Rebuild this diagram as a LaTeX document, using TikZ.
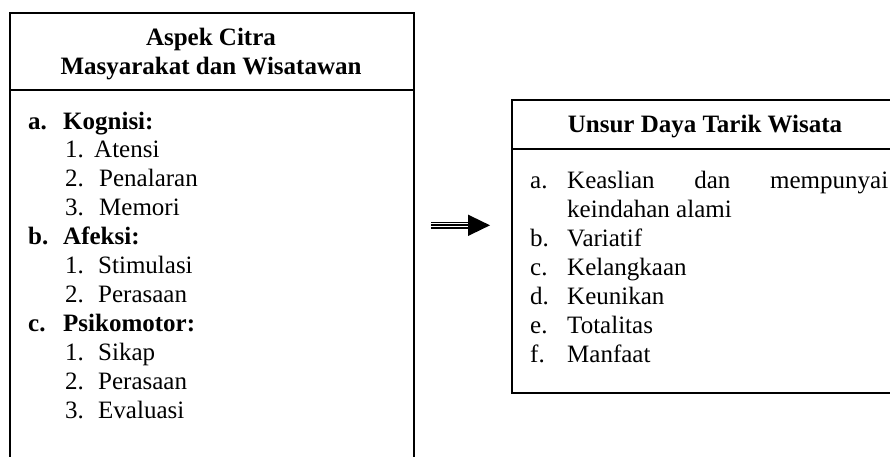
\documentclass[tikz,border=0pt]{standalone}
\usepackage{fontspec}
\setmainfont{Liberation Serif}
\begin{document}
\begin{tikzpicture}[x=1pt,y=-1pt,
  boxframe/.style={draw=black,line width=1.5pt,rectangle,inner sep=0pt,anchor=north west},
  txt/.style={inner sep=0pt,anchor=base west,font=\fontsize{25}{29}\selectfont},
  ctxt/.style={inner sep=0pt,anchor=base,font=\fontsize{25}{29}\selectfont\bfseries},
  btxt/.style={txt,font=\fontsize{25}{29}\selectfont\bfseries},
  rule/.style={draw=black,line width=1.5pt}]
\clip (0,0) rectangle (890,456);
\fill[white] (0,0) rectangle (890,456);
% left box
\node[boxframe,minimum width=404pt,minimum height=480pt] (L) at (9,12) {};
\coordinate (Ldl) at (9,90);
\coordinate (Ldr) at (413,90);
\draw[rule] (Ldl) -- (Ldr);
\node[ctxt] (Lh1) at (211,45) {Aspek Citra};
\node[ctxt] (Lh2) at (211,74) {Masyarakat dan Wisatawan};
\node[btxt] (La) at (28,129) {a.};
\node[btxt] (Lat) at (63,129) {Kognisi:};
\node[txt] (L1n) at (65,157.9) {1.};
\node[txt] (L1t) at (94,157.9) {Atensi};
\node[txt] (L2n) at (65,186.8) {2.};
\node[txt] (L2t) at (99,186.8) {Penalaran};
\node[txt] (L3n) at (65,215.7) {3.};
\node[txt] (L3t) at (99,215.7) {Memori};
\node[btxt] (Lb) at (28,244.6) {b.};
\node[btxt] (Lbt) at (63,244.6) {Afeksi:};
\node[txt] (L4n) at (65,273.5) {1.};
\node[txt] (L4t) at (98,273.5) {Stimulasi};
\node[txt] (L5n) at (65,302.4) {2.};
\node[txt] (L5t) at (98,302.4) {Perasaan};
\node[btxt] (Lc) at (28,331.3) {c.};
\node[btxt] (Lct) at (63,331.3) {Psikomotor:};
\node[txt] (L6n) at (65,360.2) {1.};
\node[txt] (L6t) at (98,360.2) {Sikap};
\node[txt] (L7n) at (65,389.1) {2.};
\node[txt] (L7t) at (98,389.1) {Perasaan};
\node[txt] (L8n) at (65,418) {3.};
\node[txt] (L8t) at (98,418) {Evaluasi};
% right box
\node[boxframe,minimum width=390pt,minimum height=293pt] (R) at (511,99) {};
\coordinate (Rdl) at (511,149);
\coordinate (Rdr) at (905,149);
\draw[rule] (Rdl) -- (Rdr);
\node[ctxt] (Rh) at (705,132) {Unsur Daya Tarik Wisata};
\node[txt] (Ran) at (530,188) {a.};
\node[txt] (Rat) at (567,188) {\hbox to 321pt{Keaslian\hfill dan\hfill mempunyai}};
\node[txt] (Rat2) at (567,217) {keindahan alami};
\node[txt] (Rbn) at (530,246) {b.};
\node[txt] (Rbt) at (567,246) {Variatif};
\node[txt] (Rcn) at (530,275) {c.};
\node[txt] (Rct) at (567,275) {Kelangkaan};
\node[txt] (Rdn) at (530,304) {d.};
\node[txt] (Rdt) at (567,304) {Keunikan};
\node[txt] (Ren) at (530,333) {e.};
\node[txt] (Ret) at (567,333) {Totalitas};
\node[txt] (Rfn) at (530,362) {f.};
\node[txt] (Rft) at (567,362) {Manfaat};
% arrow
\coordinate (As) at (431,225.3);
\coordinate (Am) at (468,225.3);
\coordinate (Ae) at (490,225.3);
\draw[line width=7.4pt] (As) -- (Am);
\draw[white,line width=1.3pt] ([yshift=-1.5pt]As) -- ([yshift=-1.5pt]Am);
\draw[white,line width=1.3pt] ([yshift=1.5pt]As) -- ([yshift=1.5pt]Am);
\fill (Ae) -- ([shift={(-22,-10.7)}]Ae) -- ([shift={(-22,10.7)}]Ae) -- cycle;
\end{tikzpicture}
\end{document}
